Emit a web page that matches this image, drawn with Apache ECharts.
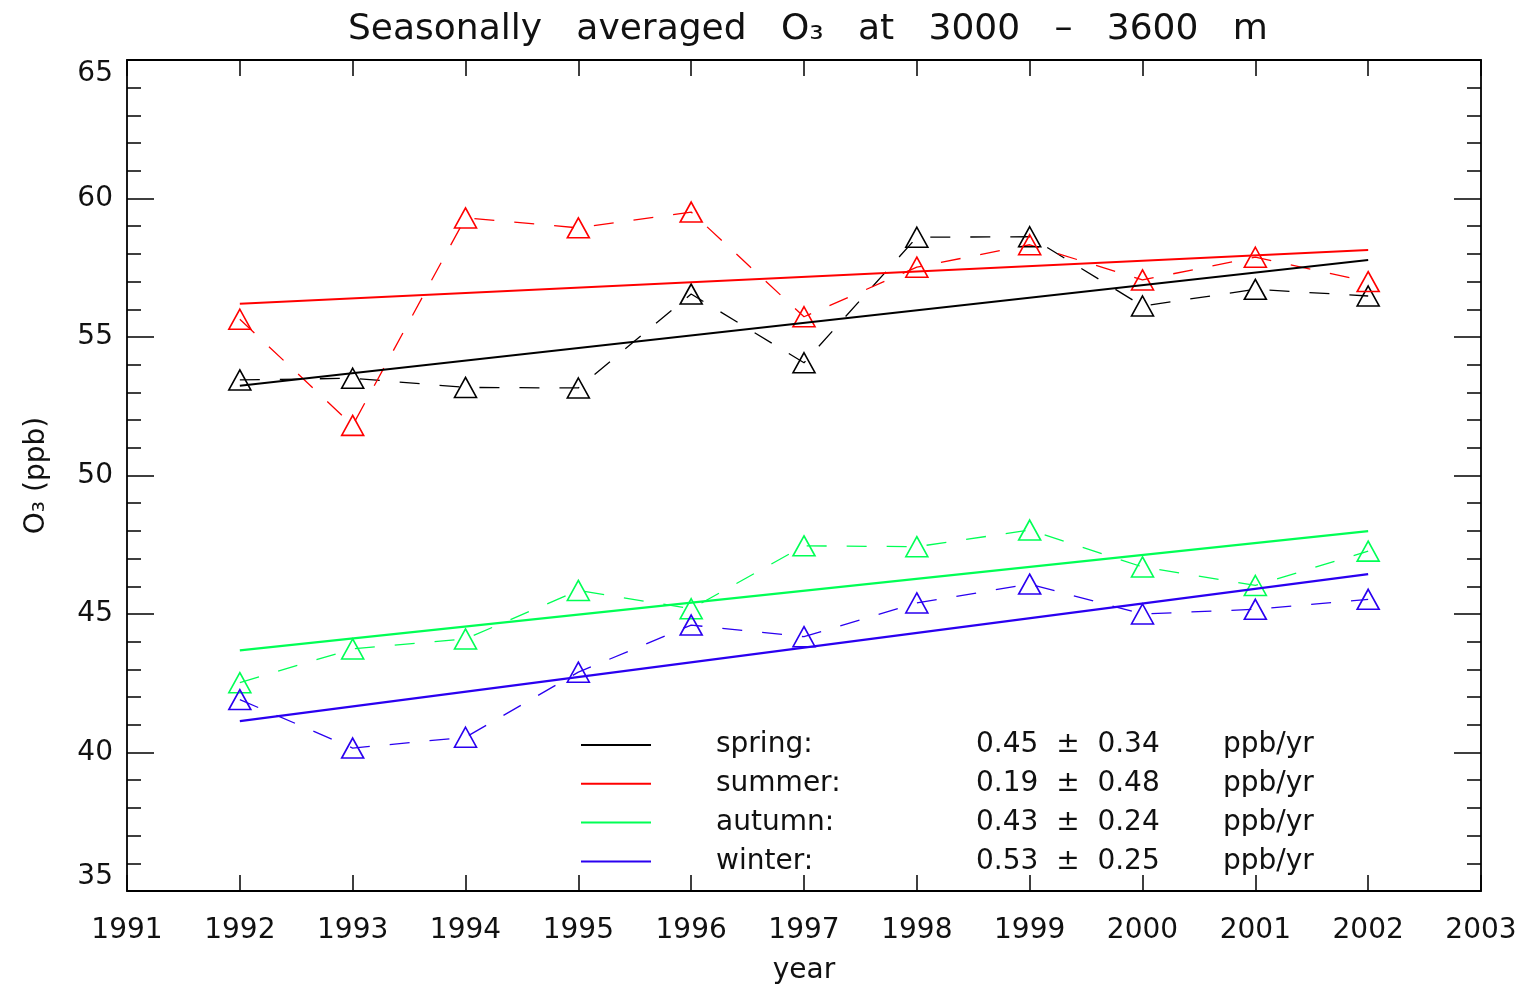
<!DOCTYPE html>
<html>
<head>
<meta charset="utf-8">
<style>
  html, body { margin: 0; padding: 0; background: #fff; }
  #chart { width: 1528px; height: 988px; }
</style>
<script src="https://cdn.jsdelivr.net/npm/echarts@6/dist/echarts.min.js"></script>
</head>
<body>
<div id="chart"></div>
<script>
// seasonal means, ppb
const years = [1992, 1993, 1994, 1995, 1996, 1997, 1998, 1999, 2000, 2001, 2002];
const spring = [53.45, 53.51, 53.18, 53.16, 56.55, 54.07, 58.6, 58.62, 56.12, 56.72, 56.48];
const summer = [55.64, 51.81, 59.3, 58.94, 59.51, 55.73, 57.52, 58.33, 57.06, 57.88, 57.0];
const autumn = [42.52, 43.74, 44.1, 45.85, 45.19, 47.46, 47.43, 48.03, 46.7, 46.03, 47.27];
const winter = [41.91, 40.16, 40.55, 42.9, 44.6, 44.18, 45.4, 46.08, 45.0, 45.17, 45.53];

// linear fits, value at 1992 and 2002
const fitStart = [53.24, 56.2, 43.69, 41.13];
const fitEnd = [57.78, 58.14, 47.99, 46.44];
const slopes = ['0.45', '0.19', '0.43', '0.53'];
const errors = ['0.34', '0.48', '0.24', '0.25'];

const seasons = ['spring', 'summer', 'autumn', 'winter'];
const colors = ['#000000', '#ff0000', '#00ff55', '#2a00f0'];
const values = [spring, summer, autumn, winter];

const font = 'DejaVu Sans';

const series = [];
seasons.forEach((name, i) => {
  series.push({
    name: name + '_obs',
    type: 'line',
    data: years.map((y, j) => [y, values[i][j]]),
    symbol: 'triangle',
    symbolSize: [22, 20],
    itemStyle: { color: 'transparent', borderColor: colors[i], borderWidth: 1.6 },
    lineStyle: { color: colors[i], width: 1.3, type: [20, 20] },
    z: 2,
  });
  series.push({
    name: name,
    type: 'line',
    data: [[years[0], fitStart[i]], [years[years.length - 1], fitEnd[i]]],
    symbol: 'none',
    itemStyle: { color: colors[i] },
    lineStyle: { color: colors[i], width: 2.2 },
    z: 3,
  });
});

const tickStyle = { color: '#000', width: 1.5 };
const txt = { fontFamily: font, fontSize: 28, color: '#111' };

const option = {
  backgroundColor: '#fff',
  animation: false,
  textStyle: { fontFamily: font },
  title: {
    text: 'Seasonally   averaged   O\u2083   at   3000   \u2013   3600   m',
    left: 343,
    top: 7,
    textStyle: { fontFamily: font, fontSize: 36, fontWeight: 'normal', color: '#111' },
  },
  grid: { left: 127, right: 47, top: 60, bottom: 97, outerBoundsMode: 'none' },
  legend: {
    orient: 'vertical',
    left: 580,
    top: 731,
    padding: 0,
    itemWidth: 70,
    itemHeight: 14,
    itemGap: 10.8,
    selectedMode: false,
    data: seasons,
    itemStyle: { opacity: 0 },
    formatter: (name) => {
      const i = seasons.indexOf(name);
      return `{n|${name}:}{v|${slopes[i]}  \u00b1  ${errors[i]}}{u|ppb/yr}`;
    },
    textStyle: {
      ...txt,
      padding: [0, 0, 0, 60],
      rich: {
        n: { ...txt, width: 260, lineHeight: 30 },
        v: { ...txt, width: 247, lineHeight: 30 },
        u: { ...txt, lineHeight: 30 },
      },
    },
  },
  xAxis: [
    {
      type: 'value',
      min: 1991,
      max: 2003,
      interval: 1,
      name: 'year',
      nameLocation: 'middle',
      nameGap: 66,
      nameTextStyle: txt,
      axisLine: { lineStyle: { color: '#000', width: 1.8 } },
      axisTick: { inside: true, length: 16, lineStyle: tickStyle },
      axisLabel: { ...txt, margin: 26, formatter: (v) => String(v) },
      splitLine: { show: false },
    },
    {
      type: 'value',
      position: 'top',
      min: 1991,
      max: 2003,
      interval: 1,
      axisLine: { lineStyle: { color: '#000', width: 1.8 } },
      axisTick: { inside: true, length: 16, lineStyle: tickStyle },
      axisLabel: { show: false },
      splitLine: { show: false },
    },
  ],
  yAxis: [
    {
      type: 'value',
      min: 35,
      max: 65,
      interval: 5,
      name: 'O\u2083 (ppb)',
      nameLocation: 'middle',
      nameGap: 76,
      nameRotate: 90,
      nameTextStyle: txt,
      axisLine: { show: true, lineStyle: { color: '#000', width: 1.8 } },
      axisTick: { inside: true, length: 27, lineStyle: tickStyle },
      minorTick: { show: true, splitNumber: 5, length: 14, lineStyle: tickStyle },
      axisLabel: { ...txt, margin: 14, verticalAlignMaxLabel: 'top', verticalAlignMinLabel: 'bottom' },
      splitLine: { show: false },
    },
    {
      type: 'value',
      position: 'right',
      min: 35,
      max: 65,
      interval: 5,
      axisLine: { show: true, lineStyle: { color: '#000', width: 1.8 } },
      axisTick: { inside: true, length: 27, lineStyle: tickStyle },
      minorTick: { show: true, splitNumber: 5, length: 14, lineStyle: tickStyle },
      axisLabel: { show: false },
      splitLine: { show: false },
    },
  ],
  series,
};

const chart = echarts.init(document.getElementById('chart'));
chart.setOption(option);
</script>
</body>
</html>
